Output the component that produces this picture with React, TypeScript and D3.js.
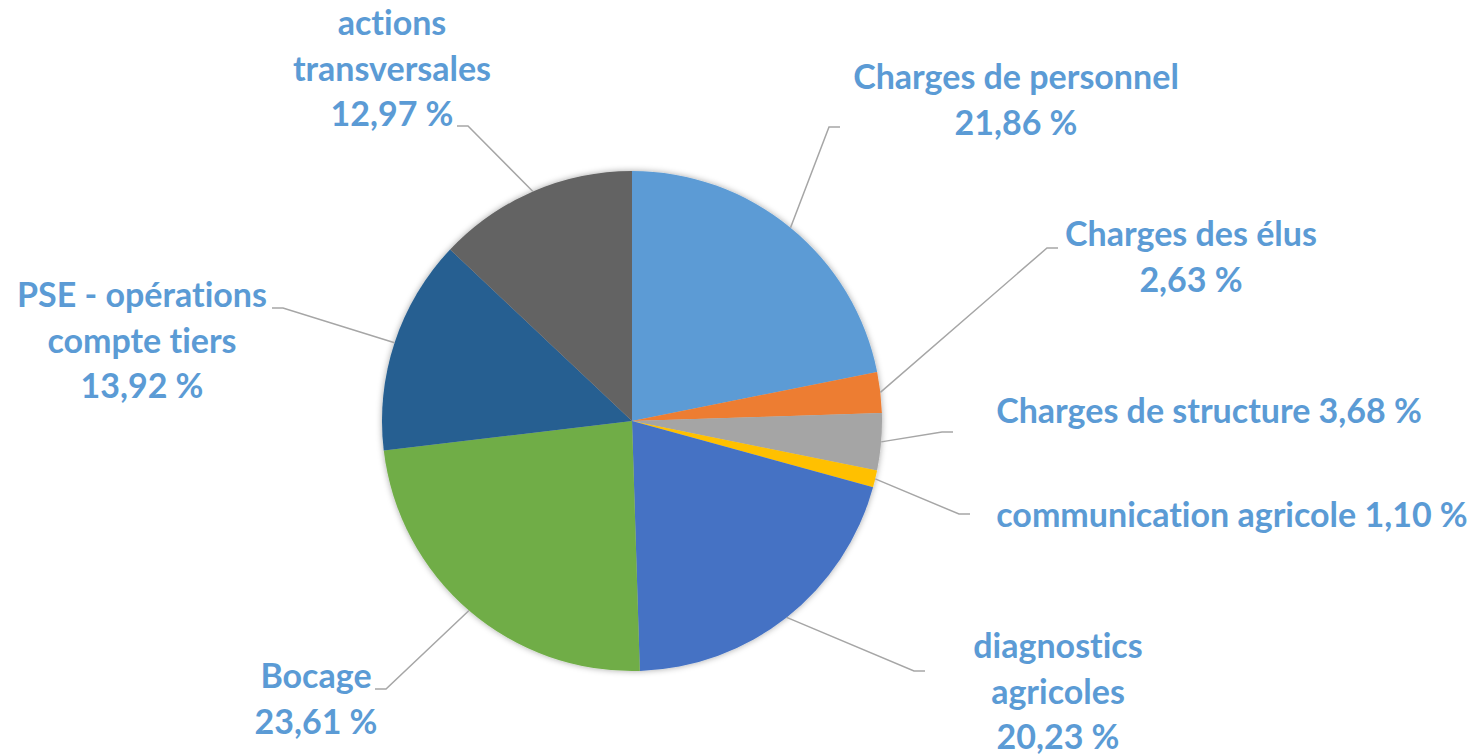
import { useMemo } from 'react'
import * as d3 from 'd3'

// Répartition du budget (en %), sens horaire à partir de midi
const CATEGORIES = [
  'Charges de personnel',
  'Charges des élus',
  'Charges de structure',
  'communication agricole',
  'diagnostics agricoles',
  'Bocage',
  'PSE - opérations compte tiers',
  'actions transversales',
]
const SHARES = [21.86, 2.63, 3.68, 1.1, 20.23, 23.61, 13.92, 12.97]
const COLORS = ['#5B9BD5', '#ED7D31', '#A5A5A5', '#FFC000', '#4472C4', '#70AD47', '#255E91', '#636363']

// découpage des étiquettes en lignes (comme dans l'original)
const LABEL_LINES = [
  ['Charges de personnel'],
  ['Charges des élus'],
  [],
  [],
  ['diagnostics', 'agricoles'],
  ['Bocage'],
  ['PSE - opérations', 'compte tiers'],
  ['actions', 'transversales'],
]
// étiquettes sur une seule ligne : "nom valeur"
const INLINE = [false, false, true, true, false, false, false, false]

// placement manuel des étiquettes : centre x, 1re ligne de base, bout du trait
const LABEL_POS = [
  { x: 1016, y: 89, ex: 840, ey: 127, side: 1 },
  { x: 1191, y: 246, ex: 1058, ey: 248, side: 1 },
  { x: 1209, y: 423, ex: 953, ey: 432, side: 1 },
  { x: 1232, y: 527, ex: 970, ey: 514, side: 1 },
  { x: 1058, y: 658, ex: 925, ey: 671, side: 1 },
  { x: 316, y: 688, ex: 375, ey: 689, side: -1 },
  { x: 142, y: 307, ex: 272, ey: 308, side: -1 },
  { x: 392, y: 35, ex: 457, ey: 126, side: -1 },
]

const W = 1480, H = 754
const CX = 632, CY = 421, R = 250
const LINE_H = 45.5
const fmt = (v: number) => v.toFixed(2).replace('.', ',') + ' %'

export default function App() {
  const slices = useMemo(() => {
    const pie = d3.pie<number>().sort(null).value(d => d)
    return pie(SHARES)
  }, [])
  const arc = d3.arc<d3.PieArcDatum<number>>().innerRadius(0).outerRadius(R)

  return (
    <div style={{ position: 'fixed', left: 0, top: 0, background: '#fff' }}>
      <svg width={W} height={H} style={{ display: 'block' }}>
        <defs>
          <filter id="pieShadow" x="-10%" y="-10%" width="120%" height="120%">
            <feDropShadow dx="0" dy="0" stdDeviation="3" floodColor="#000" floodOpacity="0.35" />
          </filter>
        </defs>
        <g transform={`translate(${CX},${CY})`} filter="url(#pieShadow)">
          {slices.map((s, i) => (
            <path key={i} d={arc(s) ?? ''} fill={COLORS[i]} />
          ))}
        </g>

        {/* traits de rappel */}
        <g fill="none" stroke="#A6A6A6" strokeWidth={1.5}>
          {slices.map((s, i) => {
            const a = (s.startAngle + s.endAngle) / 2
            const p0: [number, number] = [CX + R * Math.sin(a), CY - R * Math.cos(a)]
            const pos = LABEL_POS[i]
            const bx = pos.ex - pos.side * 11
            const pts: [number, number][] = [p0, [bx, pos.ey], [pos.ex, pos.ey]]
            return <path key={i} d={d3.line()(pts) ?? ''} />
          })}
        </g>

        {/* étiquettes */}
        <g
          fill="#5B9BD5"
          fontFamily="Lato, 'Open Sans', sans-serif"
          fontWeight={700}
          fontSize={34}
          textAnchor="middle"
          style={{ fontVariantLigatures: 'none' }}
        >
          {slices.map((s, i) => {
            const pos = LABEL_POS[i]
            const lines = INLINE[i]
              ? [`${CATEGORIES[i]} ${fmt(SHARES[i])}`]
              : [...LABEL_LINES[i], fmt(SHARES[i])]
            return (
              <text key={i} x={pos.x} y={pos.y}>
                {lines.map((l, j) => (
                  <tspan key={j} x={pos.x} y={pos.y + j * LINE_H}>{l}</tspan>
                ))}
              </text>
            )
          })}
        </g>
      </svg>
    </div>
  )
}
